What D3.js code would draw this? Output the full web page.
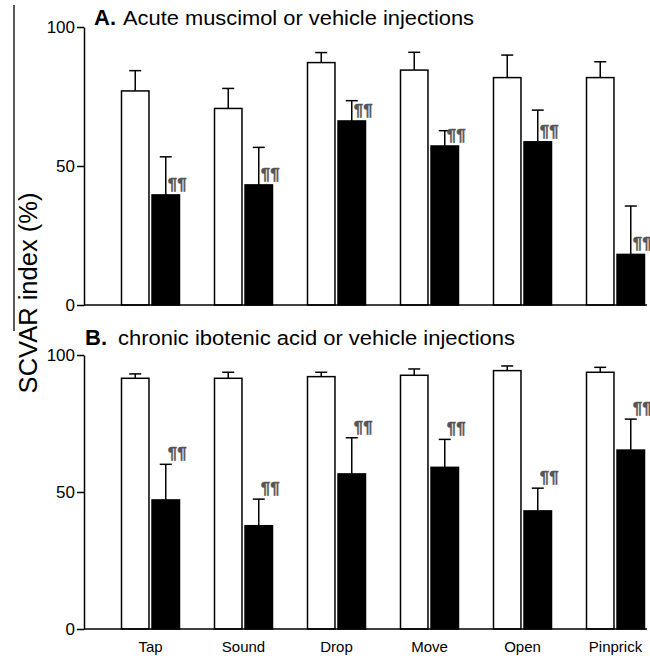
<!DOCTYPE html>
<html lang="en">
  <head>
    <meta charset="UTF-8" />
    <title>SCVAR index</title>
    <script src="https://d3js.org/d3.v7.min.js"></script>
    <style>
      body { margin: 0; background: #fff; }
      text { font-family: "Liberation Sans", Arial, Helvetica, sans-serif; }
    </style>
  </head>
  <body>
    <svg id="chart" width="650" height="660"></svg>

    <script>
      // Data (mean and SEM, %)
      const categories = ["Tap", "Sound", "Drop", "Move", "Open", "Pinprick"];
      const acuteVehicle = [77.0, 70.7, 87.2, 84.5, 81.8, 81.8];
      const acuteVehicleErr = [7.3, 7.2, 3.6, 6.4, 8.1, 5.7];
      const acuteMuscimol = [39.6, 43.2, 66.2, 57.2, 58.7, 18.2];
      const acuteMuscimolErr = [13.7, 13.5, 7.3, 5.5, 11.4, 17.4];
      const chronicVehicle = [91.5, 91.5, 92.1, 92.6, 94.3, 93.7];
      const chronicVehicleErr = [1.6, 2.2, 1.6, 2.3, 1.7, 1.8];
      const chronicIbotenic = [47.1, 37.7, 56.6, 59.0, 43.1, 65.3];
      const chronicIbotenicErr = [13.0, 9.7, 13.2, 10.2, 8.3, 11.3];
      const yTicks = [0, 50, 100];
      const sigMark = "¶¶";

      const svg = d3.select("#chart");

      // x scales shared by both panels
      const x = d3.scaleBand().domain(categories).range([104, 662]);
      const groupWidth = 58;
      const xInner = d3
        .scaleBand()
        .domain(["vehicle", "lesion"])
        .range([0, groupWidth])
        .paddingInner(0.1);
      const groupLeft = (c) => x(c) + (x.bandwidth() - groupWidth) / 2;

      const panels = [
        {
          letter: "A.",
          title: "Acute muscimol or vehicle injections",
          titleLen: 351,
          letterX: 94,
          textX: 123,
          titleY: 25,
          range: [305, 27],
          vehicle: acuteVehicle,
          vehicleErr: acuteVehicleErr,
          lesion: acuteMuscimol,
          lesionErr: acuteMuscimolErr,
          markAtErr: false,
          labels: false,
        },
        {
          letter: "B.",
          title: "chronic ibotenic acid or vehicle injections",
          titleLen: 397,
          letterX: 85,
          textX: 118,
          titleY: 345,
          range: [629, 355],
          vehicle: chronicVehicle,
          vehicleErr: chronicVehicleErr,
          lesion: chronicIbotenic,
          lesionErr: chronicIbotenicErr,
          markAtErr: true,
          labels: true,
        },
      ];

      // thin frame line on the far left
      svg
        .append("line")
        .attr("x1", 14)
        .attr("x2", 14)
        .attr("y1", 5)
        .attr("y2", 331)
        .attr("stroke", "#222")
        .attr("stroke-width", 1.5);

      panels.forEach((p) => {
        const y = d3.scaleLinear().domain([0, 100]).range(p.range);
        const g = svg.append("g");

        const rows = categories.map((c, i) => ({
          cat: c,
          vehicle: p.vehicle[i],
          vehicleErr: p.vehicleErr[i],
          lesion: p.lesion[i],
          lesionErr: p.lesionErr[i],
        }));

        const bars = [];
        rows.forEach((r) => {
          bars.push({ cat: r.cat, key: "vehicle", v: r.vehicle, e: r.vehicleErr });
          bars.push({ cat: r.cat, key: "lesion", v: r.lesion, e: r.lesionErr });
        });

        // error bars (drawn first so the bar outline covers the stem base)
        const cx = (d) => groupLeft(d.cat) + xInner(d.key) + xInner.bandwidth() / 2;
        g.selectAll(".err")
          .data(bars)
          .enter()
          .append("line")
          .attr("class", "err")
          .attr("x1", cx)
          .attr("x2", cx)
          .attr("y1", (d) => y(d.v))
          .attr("y2", (d) => y(d.v + d.e))
          .attr("stroke", "#000")
          .attr("stroke-width", 1.5);
        g.selectAll(".cap")
          .data(bars)
          .enter()
          .append("line")
          .attr("class", "cap")
          .attr("x1", (d) => cx(d) - 6)
          .attr("x2", (d) => cx(d) + 6)
          .attr("y1", (d) => y(d.v + d.e))
          .attr("y2", (d) => y(d.v + d.e))
          .attr("stroke", "#000")
          .attr("stroke-width", 1.5);

        g.selectAll(".bar")
          .data(bars)
          .enter()
          .append("rect")
          .attr("class", "bar")
          .attr("x", (d) => groupLeft(d.cat) + xInner(d.key))
          .attr("y", (d) => y(d.v))
          .attr("width", xInner.bandwidth())
          .attr("height", (d) => y(0) - y(d.v))
          .attr("fill", (d) => (d.key === "vehicle" ? "#fff" : "#000"))
          .attr("stroke", "#000")
          .attr("stroke-width", 1.5);

        // significance marks
        g.selectAll(".sig")
          .data(bars.filter((d) => d.key === "lesion"))
          .enter()
          .append("text")
          .attr("class", "sig")
          .attr("x", (d) => cx(d) + 2)
          .attr("y", (d) => (p.markAtErr ? y(d.v + d.e) - 5 : y(d.v) - 5))
          .attr("font-size", 17)
          .attr("font-weight", "bold")
          .attr("fill", "#555")
          .attr("stroke", "#555")
          .attr("stroke-width", 0.4)
          .text(sigMark);

        // y axis
        const yAxis = g
          .append("g")
          .attr("transform", "translate(84,0)")
          .call(d3.axisLeft(y).tickValues(yTicks).tickSize(7).tickSizeOuter(0));
        yAxis.select(".domain").attr("stroke-width", 1.5);
        yAxis.selectAll(".tick line").attr("stroke-width", 1.5);
        yAxis
          .selectAll(".tick text")
          .attr("font-size", 17)
          .attr("font-family", null)
          .attr("x", -9);

        // baseline
        g.append("line")
          .attr("x1", 84)
          .attr("x2", 647)
          .attr("y1", y(0))
          .attr("y2", y(0))
          .attr("stroke", "#000")
          .attr("stroke-width", 1.5);

        if (p.labels) {
          const xAxis = g
            .append("g")
            .attr("transform", `translate(0,${y(0)})`)
            .call(d3.axisBottom(x).tickSize(0));
          xAxis.select(".domain").remove();
          xAxis
            .selectAll(".tick text")
            .attr("font-size", 15)
            .attr("font-family", null)
            .attr("y", 12);
        }

        // panel title
        g.append("text")
          .attr("x", p.letterX)
          .attr("y", p.titleY)
          .attr("font-size", 22)
          .attr("font-weight", "bold")
          .text(p.letter);
        g.append("text")
          .attr("x", p.textX)
          .attr("y", p.titleY)
          .attr("font-size", 19.5)
          .attr("textLength", p.titleLen)
          .attr("lengthAdjust", "spacingAndGlyphs")
          .text(p.title);
      });

      // y axis label
      svg
        .append("text")
        .attr("transform", "translate(37,293) rotate(-90)")
        .attr("text-anchor", "middle")
        .attr("font-size", 25.5)
        .text("SCVAR index (%)");
    </script>
  </body>
</html>
